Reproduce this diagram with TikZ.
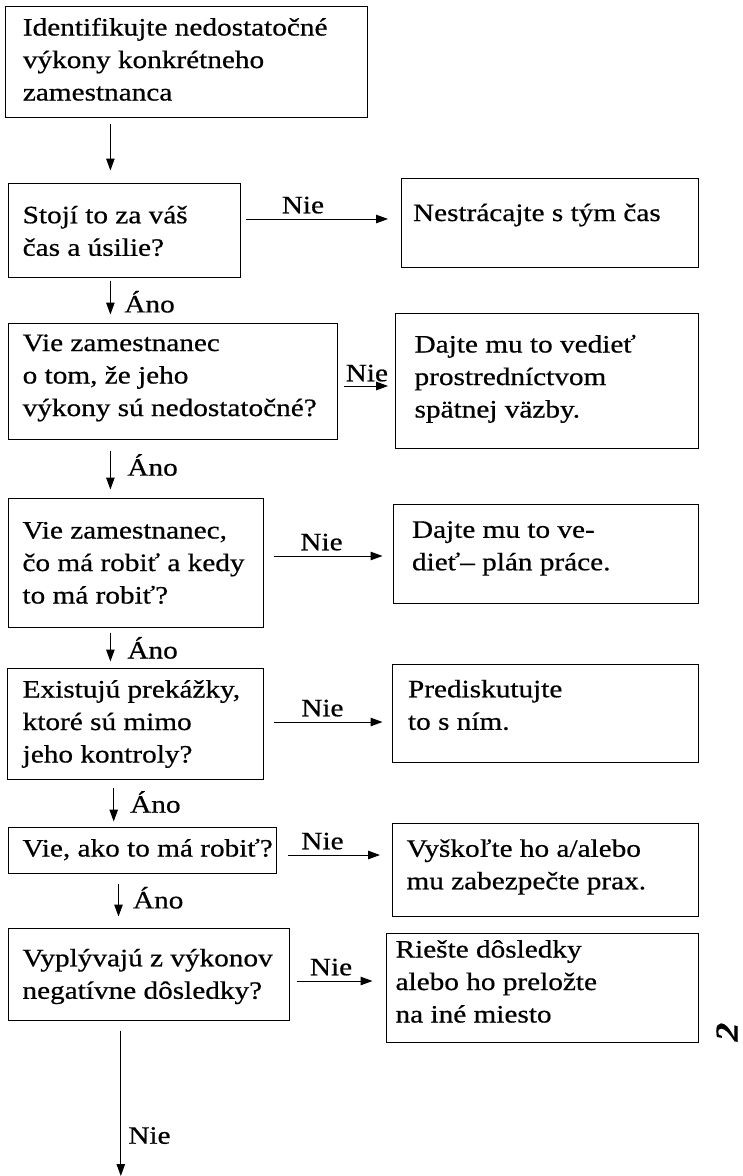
\documentclass[tikz,border=0pt]{standalone}
\usepackage{fontspec}
\setmainfont{Liberation Serif}[FakeStretch=1.17,FakeBold=0.6]
\usetikzlibrary{arrows.meta}
\newcommand{\bxt}[3]{\makebox[#1][l]{\raisebox{#2}[\height][\depth]{\begin{tabular}{@{}l@{}}#3\end{tabular}}}}
\begin{document}
\begin{tikzpicture}[x=1pt,y=-1pt,
  txt/.style={font=\fontsize{25}{32.5}\selectfont},
  box/.style={txt, draw=black, line width=1pt, inner sep=0pt, rectangle},
  arr/.style={draw=black, line width=1pt, -{Triangle[length=12pt,width=8.5pt]}},
  lbl/.style={txt, inner sep=1pt}]
\useasboundingbox (0,0) rectangle (743,1176);

% boxes
\node[box, minimum width=361.3pt, minimum height=111pt] (b1) at (186.4,61.5)
  {\bxt{327pt}{0pt}{Identifikujte nedostatočné\\výkony konkrétneho\\zamestnanca}};
\node[box, minimum width=232pt, minimum height=94pt] (b2) at (124,230)
  {\bxt{202.6pt}{-3pt}{Stojí to za váš\\čas a úsilie?}};
\node[box, minimum width=297pt, minimum height=89pt] (b3) at (549.5,222.5)
  {\bxt{273pt}{8pt}{Nestrácajte s tým čas}};
\node[box, minimum width=329pt, minimum height=116pt] (b4) at (172.5,381)
  {\bxt{299.6pt}{4pt}{Vie zamestnanec\\o tom, že jeho\\výkony sú nedostatočné?}};
\node[box, minimum width=302.4pt, minimum height=135pt] (b5) at (546.8,380.5)
  {\bxt{264.4pt}{2pt}{Dajte mu to vedieť\\prostredníctvom\\spätnej väzby.}};
\node[box, minimum width=254.5pt, minimum height=129pt] (b6) at (135.75,562.5)
  {\bxt{226.5pt}{-2pt}{Vie zamestnanec,\\čo má robiť a kedy\\to má robiť?}};
\node[box, minimum width=305pt, minimum height=99pt] (b7) at (545.5,553.5)
  {\bxt{267pt}{6pt}{Dajte mu to ve-\\dieť– plán práce.}};
\node[box, minimum width=256pt, minimum height=111pt] (b8) at (135,723.5)
  {\bxt{224.6pt}{0pt}{Existujú prekážky,\\ktoré sú mimo\\jeho kontroly?}};
\node[box, minimum width=306pt, minimum height=98pt] (b9) at (545,713)
  {\bxt{274pt}{6pt}{Prediskutujte\\to s ním.}};
\node[box, minimum width=267.5pt, minimum height=46pt] (b10) at (142.25,850)
  {\bxt{239.5pt}{0pt}{Vie, ako to má robiť?}};
\node[box, minimum width=306pt, minimum height=93pt] (b11) at (545,869.5)
  {\bxt{277pt}{3pt}{Vyškoľte ho a/alebo\\mu zabezpečte prax.}};
\node[box, minimum width=280.5pt, minimum height=92pt] (b12) at (148.75,974)
  {\bxt{252.5pt}{-2pt}{Vyplývajú z výkonov\\negatívne dôsledky?}};
\node[box, minimum width=311.4pt, minimum height=109pt] (b13) at (542.3,987.5)
  {\bxt{293.4pt}{4pt}{Riešte dôsledky\\alebo ho preložte\\na iné miesto}};

% helper coordinates
\coordinate (v1) at (110.4,0);
\coordinate (v5) at (113.7,0);
\coordinate (v6) at (118.5,0);
\coordinate (v7) at (120.8,0);
\coordinate (endpt) at (120.8,1176);
\coordinate (h1) at (0,219);
\coordinate (h2) at (0,386);
\coordinate (h3) at (0,556);
\coordinate (h4) at (0,722);
\coordinate (h5) at (0,855);
\coordinate (h6) at (0,981);

% vertical arrows
\draw[arr, shorten <=6pt, shorten >=12pt] (b1.south -| v1) -- (b2.north -| v1);
\draw[arr, shorten <=3pt, shorten >=8pt] (b2.south -| v1) -- node[lbl, right=12.5pt, pos=0.54] {Áno} (b4.north -| v1);
\draw[arr, shorten <=11pt, shorten >=8pt] (b4.south -| v1) -- node[lbl, right=15.5pt, pos=0.44] {Áno} (b6.north -| v1);
\draw[arr, shorten <=5pt, shorten >=6pt] (b6.south -| v1) -- node[lbl, right=15.5pt, pos=0.51] {Áno} (b8.north -| v1);
\draw[arr, shorten <=8pt, shorten >=5pt] (b8.south -| v5) -- node[lbl, right=15pt, pos=0.48] {Áno} (b10.north -| v5);
\draw[arr, shorten <=10pt, shorten >=11pt] (b10.south -| v6) -- node[lbl, right=13pt, pos=0.45] {Áno} (b12.north -| v6);
\draw[arr, shorten <=10pt] (b12.south -| v7) -- node[lbl, right=6pt, pos=0.74] {Nie} (endpt);

% horizontal arrows
\draw[arr, shorten <=5pt, shorten >=12.5pt] (b2.east |- h1) -- node[lbl, above=4pt, pos=0.39] {Nie} (b3.west |- h1);
\draw[arr, shorten <=6.5pt, shorten >=7pt] (b4.east |- h2) -- node[lbl, above=3pt, pos=0.51] {Nie} (b5.west |- h2);
\draw[arr, shorten <=10pt, shorten >=10pt] (b6.east |- h3) -- node[lbl, above=4pt, pos=0.45] {Nie} (b7.west |- h3);
\draw[arr, shorten <=10pt, shorten >=9pt] (b8.east |- h4) -- node[lbl, above=4pt, pos=0.46] {Nie} (b9.west |- h4);
\draw[arr, shorten <=11.6pt, shorten >=11.5pt] (b10.east |- h5) -- node[lbl, above=4pt, pos=0.40] {Nie} (b11.west |- h5);
\draw[arr, shorten <=7pt, shorten >=13.6pt] (b12.east |- h6) -- node[lbl, above=4pt, pos=0.43] {Nie} (b13.west |- h6);

% page number at the right edge
\node[rotate=90, inner sep=0pt, font=\fontsize{32}{32}\selectfont\bfseries\itshape] (pg) at (727,1032) {2};
\end{tikzpicture}
\end{document}
